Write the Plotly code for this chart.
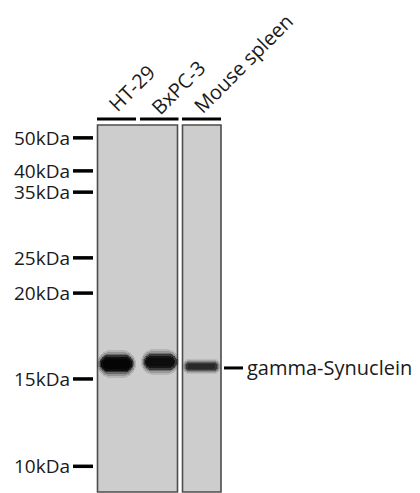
import plotly.graph_objects as go

# ---- data ----
marker_labels = ["50kDa", "40kDa", "35kDa", "25kDa", "20kDa", "15kDa", "10kDa"]
marker_migration = [0.035, 0.125, 0.183, 0.362, 0.458, 0.692, 0.93]   # fraction of gel height
lane_names = ["HT-29", "BxPC-3", "Mouse spleen"]
band_migration = [0.651, 0.646, 0.659]
band_intensity = [1.0, 0.92, 0.62]
band_thickness = [0.046, 0.042, 0.024]
target_label = "gamma-Synuclein"
target_migration = 0.662

# ---- layout constants (pixels) ----
W, H = 420, 493
GEL_TOP, GEL_BOT = 125, 492
GH = GEL_BOT - GEL_TOP
lane_x = [116.5, 160.0, 201.5]
band_w = 33
panels = [(97.5, 177.5), (182.5, 221.0)]
lane_bars = [(97, 136), (140, 178.5), (182, 221)]
FONT = "Open Sans"
FS = 19

def ypx(px):
    return (px - GEL_TOP) / GH

def paper_y(px):
    return 1 - px / H

fig = go.Figure()
shapes = []
annotations = []

# gel panels
for x0, x1 in panels:
    shapes.append(dict(type="rect", xref="x", yref="y", x0=x0, x1=x1, y0=0, y1=1,
                       fillcolor="#cdcdcd", line=dict(color="#4d4d4d", width=1.6),
                       layer="below"))

# bands (layered bars for a soft edge)
layers = [(1.18, 1.7, 0.12), (1.12, 1.45, 0.18), (1.06, 1.22, 0.3),
          (1.0, 1.0, 0.55), (0.92, 0.78, 0.8), (0.82, 0.55, 1.0)]
for i, name in enumerate(lane_names):
    v = int(round(90 - 85 * band_intensity[i]))
    col = f"rgb({v},{v},{v})"
    for sw, st, op in layers:
        t = band_thickness[i] * st
        fig.add_trace(go.Bar(
            x=[lane_x[i]], y=[t], base=[band_migration[i] - t / 2],
            width=band_w * sw, marker=dict(color=col, opacity=op * band_intensity[i] ** 0.5,
                                            cornerradius="45%", line=dict(width=0)),
            showlegend=False, hoverinfo="skip", name=name))

# lane header bars
for x0, x1 in lane_bars:
    shapes.append(dict(type="line", xref="x", yref="y", x0=x0, x1=x1,
                       y0=ypx(119), y1=ypx(119), line=dict(color="black", width=3)))

# lane labels
label_centers = [(131, 88), (178, 87), (243, 63)]
for name, (cx, cy) in zip(lane_names, label_centers):
    annotations.append(dict(text=name, x=cx, xref="x", y=paper_y(cy), yref="paper",
                            showarrow=False, textangle=-45, xanchor="center", yanchor="middle",
                            font=dict(family=FONT, size=FS + 1, color="#1a1a1a")))

# markers
for lab, m in zip(marker_labels, marker_migration):
    shapes.append(dict(type="line", xref="x", yref="y", x0=73, x1=93, y0=m, y1=m,
                       line=dict(color="black", width=3.5)))
    annotations.append(dict(text=lab, x=71.5, xref="x", y=m, yref="y", showarrow=False,
                            xanchor="right", yanchor="middle",
                            font=dict(family=FONT, size=FS, color="#1a1a1a")))

# target label
shapes.append(dict(type="line", xref="x", yref="y", x0=224, x1=243,
                   y0=target_migration, y1=target_migration, line=dict(color="black", width=3)))
annotations.append(dict(text=target_label, x=245, xref="x", y=target_migration, yref="y",
                        showarrow=False, xanchor="left", yanchor="middle",
                        font=dict(family=FONT, size=FS + 1, color="#1a1a1a")))

fig.update_layout(
    width=W, height=H, margin=dict(l=0, r=0, t=0, b=0),
    paper_bgcolor="white", plot_bgcolor="white",
    barmode="overlay", bargap=0,
    xaxis=dict(range=[0, W], visible=False, fixedrange=True),
    yaxis=dict(range=[ypx(H), ypx(0)], visible=False, fixedrange=True),
    shapes=shapes, annotations=annotations, showlegend=False,
)

fig.write_html("out.html", config={"displayModeBar": False},
               post_script="document.body.style.margin='0';document.body.style.overflow='hidden';")
